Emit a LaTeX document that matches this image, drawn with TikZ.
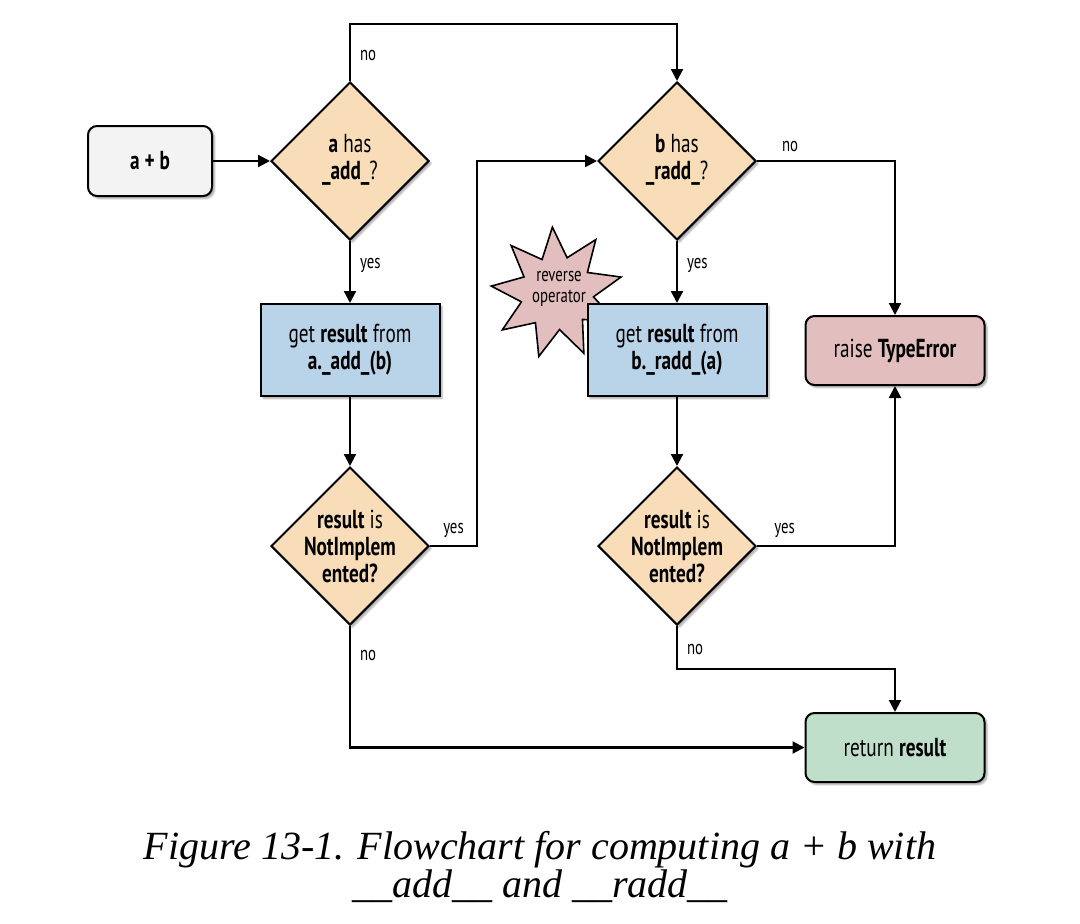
\documentclass[tikz,border=0pt]{standalone}
\usepackage{fontspec}
\usetikzlibrary{shapes.geometric,arrows.meta,shadows.blur,calc}
\newfontfamily\cf{PT Sans}[FakeStretch=0.74]
\newfontfamily\capfont{Liberation Serif}
\definecolor{cgray}{HTML}{F3F3F3}
\definecolor{cpeach}{HTML}{F8DDB8}
\definecolor{cblue}{HTML}{B9D3E9}
\definecolor{cpink}{HTML}{E3BEBE}
\definecolor{cgreen}{HTML}{BFDFCB}
\tikzset{
  shad/.style={blur shadow={shadow xshift=2.5pt,shadow yshift=-2.5pt,shadow blur steps=6,shadow opacity=35}},
  roundbox/.style={draw=black,line width=2pt,rounded corners=9pt,minimum width=#1,minimum height=69pt,inner sep=0pt,shad,font=\cf\fontsize{26}{27}\selectfont},
  procbox/.style={draw=black,line width=2pt,fill=cblue,minimum width=179pt,minimum height=92pt,inner sep=0pt,align=center,shad,font=\cf\fontsize{26}{27}\selectfont},
  decision/.style={diamond,aspect=1,draw=black,line width=2pt,fill=cpeach,minimum width=158pt,minimum height=158pt,inner sep=0pt,shad},
  dtext/.style={align=center,font=\cf\fontsize{26}{27}\selectfont,inner sep=0pt},
  arr/.style={line width=2.2pt,-{Triangle[length=12pt,width=12pt]}},
  lbl/.style={font=\cf\fontsize{20}{22}\selectfont,inner sep=0pt},
}
\begin{document}
\begin{tikzpicture}[x=1pt,y=-1pt]
\useasboundingbox (0,0) rectangle (1080,924);
% star behind
\node[star,star points=9,star point ratio=1.8,minimum size=132pt,inner sep=0pt,draw=black,line width=1.6pt,fill=cpink,rotate=4] (star) at (557,293) {};
\node[align=center,font=\cf\fontsize{20}{21}\selectfont,inner sep=0pt] (startxt) at (559,289) {reverse\\operator};
% nodes
\node[roundbox=124pt,fill=cgray,minimum height=70pt] (ab) at (150,161) {\textbf{a + b}};
\node[decision] (d1) at (350,161) {};
\node[dtext] (d1t) at (350,160) {\textbf{a} has\\\textbf{\_add\_}?};
\node[decision] (d2) at (677,161) {};
\node[dtext] (d2t) at (677,160) {\textbf{b} has\\\textbf{\_radd\_}?};
\node[procbox] (p1) at (350,350) {get \textbf{result} from\\\textbf{a.\_add\_(b)}};
\node[procbox] (p2) at (677,350) {get \textbf{result} from\\\textbf{b.\_radd\_(a)}};
\node[decision] (d3) at (350,546) {};
\node[dtext] (d3t) at (350,546) {\textbf{result} is\\\textbf{NotImplem}\\\textbf{ented?}};
\node[decision] (d4) at (677,546) {};
\node[dtext] (d4t) at (677,546) {\textbf{result} is\\\textbf{NotImplem}\\\textbf{ented?}};
\node[roundbox=179pt,fill=cpink] (err) at (895,350.5) {raise \textbf{TypeError}};
\node[roundbox=179pt,fill=cgreen] (ret) at (895,747.5) {return \textbf{result}};
% connectors
\draw[arr] (ab.east) -- (d1.west);
\draw[arr] (d1.north) -- ++(0,-57) node[lbl,pos=0.45,anchor=west,xshift=9pt] (l1) {no} -| (d2.north);
\draw[arr] (d1.south) -- node[lbl,anchor=west,xshift=9pt,pos=0.4] (l2) {yes} (p1.north);
\draw[arr] (p1.south) -- (d3.north);
\draw[arr] (d3.east) -- ++(47,0) node[lbl,pos=0.5,anchor=south,yshift=7pt] (l3) {yes} |- (d2.west);
\draw[arr] (d3.south) |- node[lbl,pos=0.12,anchor=west,xshift=9pt] (l4) {no} (ret.west);
\draw[arr] (d2.east) -| node[lbl,pos=0.12,anchor=south,yshift=8pt] (l5) {no} (err.north);
\draw[arr] (d2.south) -- node[lbl,anchor=west,xshift=9pt,pos=0.4] (l6) {yes} (p2.north);
\draw[arr] (p2.south) -- (d4.north);
\draw[arr] (d4.east) -| node[lbl,pos=0.1,anchor=south,yshift=7pt] (l7) {yes} (err.south);
\draw[arr] (d4.south) -- ++(0,43) node[lbl,pos=0.55,anchor=west,xshift=9pt] (l8) {no} -| (ret.north);
% caption
\node[align=center,font=\capfont\itshape\fontsize{40}{33}\selectfont,inner sep=0pt] (cap) at (540,867) {Figure 13-1. Flowchart for computing a + b with\\\_\_add\_\_ and \_\_radd\_\_};
\end{tikzpicture}
\end{document}
